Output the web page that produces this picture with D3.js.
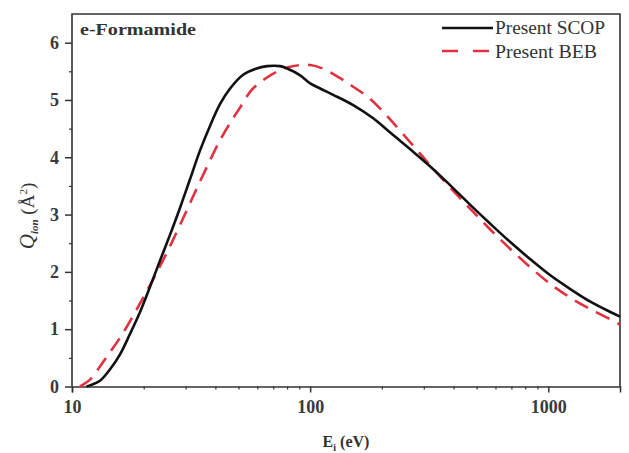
<!DOCTYPE html>
<html>
<head>
<meta charset="utf-8">
<script src="https://cdn.jsdelivr.net/npm/d3@7"></script>
<style>
  body { margin: 0; background: #fff; }
  text { font-family: 'Liberation Serif', 'Times New Roman', Times, serif; }
</style>
</head>
<body>
<div id="chart"></div>
<script>
// incident energy (eV) and ionisation cross section (Å²)
const scopE = [11.5, 11.9, 13.11, 14.45, 15.91, 17.53, 19.31, 21.27, 23.43, 25.81, 28.43, 31.32, 34.5, 38.01, 41.87, 46.12, 52.3, 58.74, 65.97, 74.8, 80.1, 90.8, 100, 110.2, 124.9, 151.6, 184, 210, 232, 263.2, 319.3, 387.5, 470.2, 570.5, 692.3, 840.5, 1019.5, 1237, 1501, 1822, 2000]
const scopQ = [0, 0.02, 0.1, 0.3, 0.56, 0.92, 1.3, 1.74, 2.2, 2.65, 3.12, 3.62, 4.12, 4.55, 4.93, 5.2, 5.44, 5.54, 5.59, 5.59, 5.55, 5.43, 5.29, 5.2, 5.09, 4.91, 4.68, 4.48, 4.33, 4.14, 3.84, 3.51, 3.17, 2.84, 2.52, 2.22, 1.94, 1.7, 1.48, 1.3, 1.22]
const bebE = [10.8, 11.9, 13.11, 14.45, 15.91, 17.53, 19.31, 21.27, 23.43, 25.81, 28.43, 31.32, 34.5, 38.01, 41.87, 46.12, 50.81, 56.7, 64.7, 72.4, 82.4, 100, 115.6, 133.7, 151.6, 173.6, 196.8, 223.3, 270.9, 319.3, 387.5, 470.2, 570.5, 692.3, 840.5, 1019.5, 1237, 1501, 1822, 2000]
const bebQ = [0, 0.12, 0.35, 0.6, 0.85, 1.14, 1.45, 1.77, 2.1, 2.45, 2.82, 3.2, 3.58, 3.95, 4.3, 4.6, 4.87, 5.17, 5.37, 5.49, 5.58, 5.61, 5.53, 5.38, 5.23, 5.06, 4.85, 4.6, 4.2, 3.86, 3.47, 3.1, 2.74, 2.4, 2.08, 1.79, 1.55, 1.35, 1.17, 1.08]
const xTickValues = [10, 100, 1000]
const yTickValues = [0, 1, 2, 3, 4, 5, 6]
const seriesNames = ['Present SCOP', 'Present BEB']

const width = 629
const height = 453
const padding = { top: 14, right: 9, bottom: 67, left: 72 }

const svg = d3.select('#chart').append('svg').attr('width', width).attr('height', height)

const x = d3.scaleLog().domain([10, 2000]).range([padding.left, width - padding.right])
const y = d3.scaleLinear().domain([0, 6.5]).range([height - padding.bottom + 0.5, padding.top])

const axisColor = '#333'
const serif = "'Liberation Serif', 'Times New Roman', serif"

// minor ticks
const xMinor = []
for (const base of [10, 100, 1000]) {
  for (let k = 2; k <= 9; k++) if (base * k <= 2000) xMinor.push(base * k)
}
const yMinor = d3.range(0.5, 6.5, 1)

svg.append('g')
  .attr('transform', `translate(0,${y(0)})`)
  .call(d3.axisBottom(x).tickValues(xMinor).tickSize(3).tickFormat(''))
  .call((g) => g.select('.domain').remove())
  .selectAll('line').attr('stroke', axisColor).attr('stroke-width', 1.2)

svg.append('g')
  .attr('transform', `translate(${padding.left},0)`)
  .call(d3.axisLeft(y).tickValues(yMinor).tickSize(3).tickFormat(''))
  .call((g) => g.select('.domain').remove())
  .selectAll('line').attr('stroke', axisColor).attr('stroke-width', 1.2)

const xAxis = svg.append('g')
  .attr('transform', `translate(0,${y(0)})`)
  .call(d3.axisBottom(x).tickValues(xTickValues).tickSize(6).tickPadding(8).tickFormat(d3.format('d')))
xAxis.select('.domain').attr('stroke', axisColor).attr('stroke-width', 1.5)
xAxis.selectAll('line').attr('stroke', axisColor).attr('stroke-width', 1.5)
xAxis.selectAll('text')
  .attr('font-family', serif)
  .attr('font-size', 18).attr('font-weight', 'bold').attr('fill', '#3a3a3a')

const yAxis = svg.append('g')
  .attr('transform', `translate(${padding.left},0)`)
  .call(d3.axisLeft(y).tickValues(yTickValues).tickSize(7).tickPadding(6).tickFormat(d3.format('d')))
yAxis.select('.domain').remove()
yAxis.selectAll('line').attr('stroke', axisColor).attr('stroke-width', 1.5)
yAxis.selectAll('text')
  .attr('font-family', serif)
  .attr('font-size', 18).attr('font-weight', 'bold').attr('fill', '#3a3a3a')

// frame
svg.append('path')
  .attr('d', `M${x(10)},${y(0)}V${y(6.5)}H${x(2000)}V${y(0)}`)
  .attr('fill', 'none')
  .attr('stroke', axisColor)
  .attr('stroke-width', 1.6)

const line = d3.line()
  .curve(d3.curveCatmullRom.alpha(0.5))
  .x((d) => x(d[0]))
  .y((d) => y(d[1]))

const redColor = '#e03140'

svg.append('path')
  .datum(bebE.map((e, i) => [e, bebQ[i]]))
  .attr('fill', 'none')
  .attr('stroke', redColor)
  .attr('stroke-width', 2.6)
  .attr('stroke-dasharray', '15,9')
  .attr('d', line)

svg.append('path')
  .datum(scopE.map((e, i) => [e, scopQ[i]]))
  .attr('fill', 'none')
  .attr('stroke', '#111')
  .attr('stroke-width', 2.6)
  .attr('stroke-linejoin', 'round')
  .attr('d', line)

// title
svg.append('text')
  .attr('x', 80).attr('y', 35)
  .attr('font-size', 17).attr('font-weight', 'bold').attr('fill', '#333')
  .attr('textLength', 116).attr('lengthAdjust', 'spacingAndGlyphs')
  .text('e-Formamide')

// legend
const legend = svg.append('g')
legend.append('line')
  .attr('x1', 442).attr('x2', 493).attr('y1', 28).attr('y2', 28)
  .attr('stroke', '#111').attr('stroke-width', 2.6)
legend.append('line')
  .attr('x1', 442).attr('x2', 489).attr('y1', 51).attr('y2', 51)
  .attr('stroke', redColor).attr('stroke-width', 2.6).attr('stroke-dasharray', '16,15')
legend.selectAll('text.lab')
  .data(seriesNames)
  .enter()
  .append('text')
  .attr('class', 'lab')
  .attr('x', 495)
  .attr('y', (d, i) => 34 + i * 24)
  .attr('font-size', 18).attr('fill', '#333')
  .attr('textLength', (d, i) => (i === 0 ? 110 : 102))
  .attr('lengthAdjust', 'spacingAndGlyphs')
  .text((d) => d)

// axis titles
const yLabel = svg.append('text')
  .attr('transform', `translate(34,216) rotate(-90)`)
  .attr('text-anchor', 'middle')
  .attr('font-size', 19).attr('fill', '#333')
yLabel.append('tspan').attr('font-style', 'italic').attr('font-size', 21).text('Q')
yLabel.append('tspan').attr('font-style', 'italic').attr('font-weight', 'bold').attr('font-size', 11).attr('dy', 4).text('ion')
yLabel.append('tspan').attr('dy', -4).text(' (Å')
yLabel.append('tspan').attr('font-size', 11).attr('dy', -7).text('2')
yLabel.append('tspan').attr('dy', 7).text(')')

const xLabel = svg.append('text')
  .attr('x', 346).attr('y', 447)
  .attr('text-anchor', 'middle')
  .attr('font-size', 16).attr('font-weight', 'bold').attr('fill', '#333')
xLabel.append('tspan').text('E')
xLabel.append('tspan').attr('font-size', 10).attr('dy', 4).text('i')
xLabel.append('tspan').attr('dy', -4).text(' (eV)')
</script>
</body>
</html>
